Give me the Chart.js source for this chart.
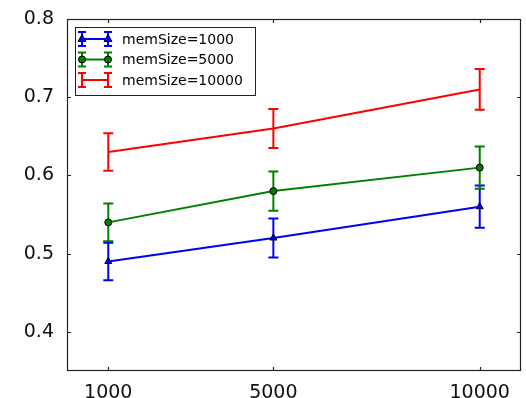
<!DOCTYPE html>
<html lang="en">
<head>
    <meta charset="UTF-8">
    <title>memSize error bars</title>
    <script src="https://cdn.jsdelivr.net/npm/chart.js"></script>
    <style>
        body { margin: 0; background: white; }
        .chart-box { width: 526px; height: 398px; }
    </style>
</head>
<body>
    <div class="chart-box">
        <canvas id="memChart"></canvas>
    </div>

    <script>
        // data
        const xValues = [1000, 5000, 10000];
        const yTicks = [0.4, 0.5, 0.6, 0.7, 0.8];
        const seriesNames = ['memSize=1000', 'memSize=5000', 'memSize=10000'];
        const mem1000 = [0.49, 0.52, 0.56];
        const err1000 = [0.024, 0.025, 0.027];
        const mem5000 = [0.54, 0.58, 0.61];
        const err5000 = [0.024, 0.025, 0.027];
        const mem10000 = [0.63, 0.66, 0.71];
        const err10000 = [0.024, 0.025, 0.026];

        const FONT = '"DejaVu Sans", "Liberation Sans", sans-serif';

        function toPoints(vals, errs) {
            return vals.map((v, i) => ({ x: xValues[i], y: v, err: errs[i] }));
        }

        // error bars, drawn under the lines
        const errorBars = {
            id: 'errorBars',
            beforeDatasetsDraw(chart) {
                const ctx = chart.ctx;
                const xs = chart.scales.x, ys = chart.scales.y;
                chart.data.datasets.forEach(ds => {
                    ctx.save();
                    ctx.strokeStyle = ds.borderColor;
                    ctx.lineWidth = 2;
                    ds.data.forEach(p => {
                        const px = xs.getPixelForValue(p.x);
                        const top = ys.getPixelForValue(p.y + p.err);
                        const bot = ys.getPixelForValue(p.y - p.err);
                        ctx.beginPath();
                        ctx.moveTo(px, top); ctx.lineTo(px, bot);
                        ctx.moveTo(px - 5, top); ctx.lineTo(px + 5, top);
                        ctx.moveTo(px - 5, bot); ctx.lineTo(px + 5, bot);
                        ctx.stroke();
                    });
                    ctx.restore();
                });
            }
        };

        // matplotlib style frame, inward ticks and legend box
        const frameAndLegend = {
            id: 'frameAndLegend',
            afterDraw(chart) {
                const ctx = chart.ctx;
                const a = chart.chartArea;
                const xs = chart.scales.x, ys = chart.scales.y;
                ctx.save();
                ctx.strokeStyle = '#222';
                ctx.lineWidth = 1.2;
                ctx.strokeRect(a.left + 0.5, a.top + 0.5, a.right - a.left - 1, a.bottom - a.top - 1);
                ctx.beginPath();
                xValues.forEach(v => {
                    const px = Math.round(xs.getPixelForValue(v)) + 0.5;
                    ctx.moveTo(px, a.bottom); ctx.lineTo(px, a.bottom - 4);
                    ctx.moveTo(px, a.top); ctx.lineTo(px, a.top + 4);
                });
                yTicks.forEach(v => {
                    const py = Math.round(ys.getPixelForValue(v)) + 0.5;
                    ctx.moveTo(a.left, py); ctx.lineTo(a.left + 4, py);
                    ctx.moveTo(a.right, py); ctx.lineTo(a.right - 4, py);
                });
                ctx.stroke();

                // legend
                const lx = 75, ly = 27, lw = 180, lh = 68;
                ctx.fillStyle = '#fff';
                ctx.fillRect(lx, ly, lw, lh);
                ctx.lineWidth = 1;
                ctx.strokeRect(lx + 0.5, ly + 0.5, lw, lh);
                const rows = [39, 59.5, 80];
                chart.data.datasets.forEach((ds, i) => {
                    const y = rows[i];
                    const x1 = 82, x2 = 108;
                    ctx.strokeStyle = ds.borderColor;
                    ctx.lineWidth = 2;
                    ctx.beginPath();
                    ctx.moveTo(x1, y); ctx.lineTo(x2, y);
                    [x1, x2].forEach(x => {
                        ctx.moveTo(x, y - 7); ctx.lineTo(x, y + 7);
                        ctx.moveTo(x - 4, y - 7); ctx.lineTo(x + 4, y - 7);
                        ctx.moveTo(x - 4, y + 7); ctx.lineTo(x + 4, y + 7);
                    });
                    ctx.stroke();
                    if (ds.pointRadius > 0) {
                        [x1, x2].forEach(x => {
                            ctx.fillStyle = ds.borderColor;
                            ctx.strokeStyle = '#000';
                            ctx.lineWidth = 1;
                            ctx.beginPath();
                            if (ds.pointStyle === 'triangle') {
                                ctx.moveTo(x, y - 4.5); ctx.lineTo(x + 4, y + 2.5); ctx.lineTo(x - 4, y + 2.5);
                                ctx.closePath();
                            } else {
                                ctx.arc(x, y, 3.5, 0, Math.PI * 2);
                            }
                            ctx.fill(); ctx.stroke();
                        });
                    }
                    ctx.fillStyle = '#000';
                    ctx.font = '14px ' + FONT;
                    ctx.textBaseline = 'middle';
                    ctx.fillText(ds.label, 122, y + 1);
                });
                ctx.restore();
            }
        };

        const series = [
            { name: seriesNames[0], vals: mem1000, errs: err1000, color: '#0000ff', style: 'triangle', r: 4 },
            { name: seriesNames[1], vals: mem5000, errs: err5000, color: '#008000', style: 'circle', r: 3.5 },
            { name: seriesNames[2], vals: mem10000, errs: err10000, color: '#ff0000', style: 'circle', r: 0 }
        ];

        new Chart(document.getElementById('memChart'), {
            type: 'line',
            data: {
                datasets: series.map(s => ({
                    label: s.name,
                    data: toPoints(s.vals, s.errs),
                    borderColor: s.color,
                    backgroundColor: s.color,
                    borderWidth: 2,
                    pointStyle: s.style,
                    pointRadius: s.r,
                    pointBackgroundColor: s.color,
                    pointBorderColor: '#000',
                    pointBorderWidth: 1,
                    tension: 0
                }))
            },
            options: {
                responsive: true,
                maintainAspectRatio: false,
                animation: false,
                layout: { padding: { left: 0, top: 19, right: 4, bottom: 0 } },
                plugins: {
                    legend: { display: false },
                    tooltip: { enabled: false }
                },
                scales: {
                    x: {
                        type: 'linear',
                        min: 0,
                        max: 11000,
                        grid: { display: false },
                        border: { display: false },
                        afterBuildTicks: s => { s.ticks = xValues.map(v => ({ value: v })); },
                        afterFit: s => { s.height = 27; },
                        ticks: {
                            color: '#111',
                            padding: 3,
                            maxRotation: 0,
                            font: { family: FONT, size: 19 },
                            callback: v => String(v)
                        }
                    },
                    y: {
                        min: 0.35,
                        max: 0.8,
                        grid: { display: false },
                        border: { display: false },
                        afterBuildTicks: s => { s.ticks = yTicks.map(v => ({ value: v })); },
                        afterFit: s => { s.width = 67; },
                        ticks: {
                            color: '#111',
                            padding: 5,
                            font: { family: FONT, size: 19 },
                            callback: v => v.toFixed(1)
                        }
                    }
                }
            },
            plugins: [errorBars, frameAndLegend]
        });
    </script>
</body>
</html>
